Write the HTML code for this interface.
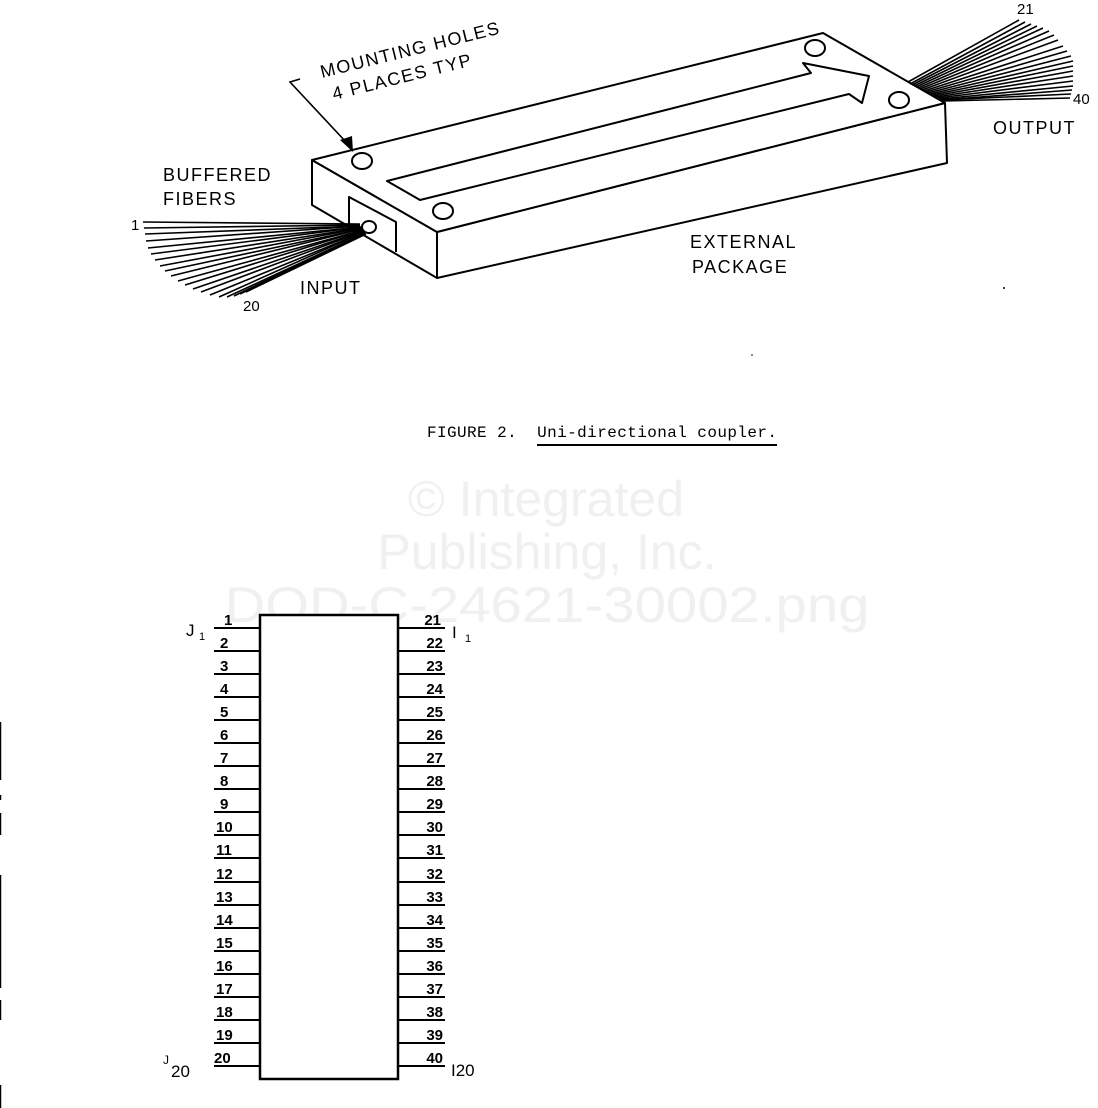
<!DOCTYPE html>
<html><head><meta charset="utf-8"><style>
html,body{margin:0;padding:0;background:#fff}
svg{display:block}
.t{font-family:"Liberation Sans",sans-serif;fill:#000}
.pre{white-space:pre}
</style></head><body>
<svg width="1098" height="1108" viewBox="0 0 1098 1108" xmlns="http://www.w3.org/2000/svg">
<!-- watermark -->
<g font-family="Liberation Sans, sans-serif" font-size="50" fill="#f0f0f0" text-anchor="middle">
<text x="546" y="516">© Integrated</text>
<text x="547" y="569">Publishing, Inc.</text>
<text x="547" y="622" textLength="645" lengthAdjust="spacingAndGlyphs">DOD-C-24621-30002.png</text>
</g>

<!-- package -->
<g stroke="#000" stroke-width="2" fill="#fff" stroke-linejoin="round">
<polygon points="312,160 437,232 437,278 312,205"/>
<polygon points="437,232 945,103 947,163 437,278"/>
<polygon points="312,160 823,33 945,103 437,232"/>
<polyline points="349,226 349,197 396,222 396,252" fill="none"/>
<polygon points="387,181 811,73 803,63 869,76 862,103 849,94 420,200"/>
<ellipse cx="362" cy="161" rx="10" ry="8"/>
<ellipse cx="443" cy="211" rx="10" ry="8"/>
<ellipse cx="815" cy="48" rx="10" ry="8"/>
<ellipse cx="899" cy="100" rx="10" ry="8"/>
<ellipse cx="369" cy="227" rx="7" ry="6"/>
</g>
<!-- leader -->
<g stroke="#000" stroke-width="1.6" fill="none">
<polyline points="300,79 290,82 346,142"/>
</g>
<polygon points="340,140 352,136 353,152" fill="#000"/>

<!-- input fibers -->
<g stroke="#000" stroke-width="1.6">
<line x1="143" y1="222" x2="360" y2="224"/>
<line x1="144" y1="228" x2="360" y2="225"/>
<line x1="145" y1="234" x2="360" y2="226"/>
<line x1="146" y1="241" x2="360" y2="226"/>
<line x1="148" y1="248" x2="361" y2="227"/>
<line x1="151" y1="254" x2="361" y2="227"/>
<line x1="155" y1="260" x2="361" y2="228"/>
<line x1="160" y1="266" x2="362" y2="228"/>
<line x1="165" y1="271" x2="362" y2="229"/>
<line x1="171" y1="276" x2="362" y2="229"/>
<line x1="178" y1="281" x2="363" y2="230"/>
<line x1="185" y1="285" x2="363" y2="230"/>
<line x1="193" y1="289" x2="363" y2="231"/>
<line x1="201" y1="292" x2="364" y2="231"/>
<line x1="210" y1="295" x2="364" y2="232"/>
<line x1="219" y1="297" x2="364" y2="232"/>
<line x1="227" y1="297" x2="365" y2="233"/>
<line x1="234" y1="296" x2="365" y2="233"/>
<line x1="240" y1="294" x2="365" y2="234"/>
<line x1="246" y1="292" x2="366" y2="234"/>
</g>
<!-- output fibers -->
<g stroke="#000" stroke-width="1.6">
<line x1="1019" y1="20" x2="908" y2="82"/>
<line x1="1025" y1="22" x2="910" y2="84"/>
<line x1="1031" y1="24" x2="912" y2="85"/>
<line x1="1037" y1="26" x2="914" y2="86"/>
<line x1="1043" y1="28" x2="916" y2="87"/>
<line x1="1049" y1="31" x2="918" y2="88"/>
<line x1="1054" y1="35" x2="920" y2="89"/>
<line x1="1058" y1="40" x2="922" y2="90"/>
<line x1="1063" y1="46" x2="924" y2="91"/>
<line x1="1067" y1="51" x2="926" y2="92"/>
<line x1="1071" y1="56" x2="928" y2="93"/>
<line x1="1073" y1="61" x2="930" y2="94"/>
<line x1="1073" y1="66" x2="932" y2="95"/>
<line x1="1073" y1="71" x2="934" y2="96"/>
<line x1="1073" y1="76" x2="936" y2="97"/>
<line x1="1073" y1="81" x2="938" y2="98"/>
<line x1="1073" y1="86" x2="940" y2="99"/>
<line x1="1072" y1="90" x2="941" y2="100"/>
<line x1="1071" y1="94" x2="942" y2="100"/>
<line x1="1070" y1="98" x2="943" y2="101"/>
</g>

<!-- labels -->
<g class="t" font-size="18" letter-spacing="1.5">
<text transform="translate(322,78) rotate(-14)">MOUNTING HOLES</text>
<text transform="translate(334,100) rotate(-14)">4 PLACES TYP</text>
<text x="163" y="181">BUFFERED</text>
<text x="163" y="205">FIBERS</text>
<text x="300" y="294">INPUT</text>
<text x="690" y="248">EXTERNAL</text>
<text x="692" y="273">PACKAGE</text>
<text x="993" y="134">OUTPUT</text>
</g>
<g class="t" font-size="15">
<text x="131" y="230">1</text>
<text x="243" y="311">20</text>
<text x="1017" y="14">21</text>
<text x="1073" y="104">40</text>
</g>
<circle cx="1004" cy="288" r="1" fill="#000"/>
<circle cx="752" cy="355" r="0.8" fill="#000"/>

<!-- caption -->
<text class="pre" x="427" y="437" font-family="Liberation Mono, monospace" font-size="16" fill="#000" xml:space="preserve" textLength="350" lengthAdjust="spacing">FIGURE 2.  Uni-directional coupler.</text>
<line x1="537" y1="445" x2="777" y2="445" stroke="#000" stroke-width="2"/>

<!-- connector block -->
<rect x="260" y="615" width="138" height="464" fill="#fff" stroke="#000" stroke-width="2.5"/>
<g stroke="#000" stroke-width="2">
<line x1="214" y1="628" x2="260" y2="628"/><line x1="398" y1="628" x2="445" y2="628"/>
<line x1="214" y1="651" x2="260" y2="651"/><line x1="398" y1="651" x2="445" y2="651"/>
<line x1="214" y1="674" x2="260" y2="674"/><line x1="398" y1="674" x2="445" y2="674"/>
<line x1="214" y1="697" x2="260" y2="697"/><line x1="398" y1="697" x2="445" y2="697"/>
<line x1="214" y1="720" x2="260" y2="720"/><line x1="398" y1="720" x2="445" y2="720"/>
<line x1="214" y1="743" x2="260" y2="743"/><line x1="398" y1="743" x2="445" y2="743"/>
<line x1="214" y1="766" x2="260" y2="766"/><line x1="398" y1="766" x2="445" y2="766"/>
<line x1="214" y1="789" x2="260" y2="789"/><line x1="398" y1="789" x2="445" y2="789"/>
<line x1="214" y1="812" x2="260" y2="812"/><line x1="398" y1="812" x2="445" y2="812"/>
<line x1="214" y1="835" x2="260" y2="835"/><line x1="398" y1="835" x2="445" y2="835"/>
<line x1="214" y1="858" x2="260" y2="858"/><line x1="398" y1="858" x2="445" y2="858"/>
<line x1="214" y1="882" x2="260" y2="882"/><line x1="398" y1="882" x2="445" y2="882"/>
<line x1="214" y1="905" x2="260" y2="905"/><line x1="398" y1="905" x2="445" y2="905"/>
<line x1="214" y1="928" x2="260" y2="928"/><line x1="398" y1="928" x2="445" y2="928"/>
<line x1="214" y1="951" x2="260" y2="951"/><line x1="398" y1="951" x2="445" y2="951"/>
<line x1="214" y1="974" x2="260" y2="974"/><line x1="398" y1="974" x2="445" y2="974"/>
<line x1="214" y1="997" x2="260" y2="997"/><line x1="398" y1="997" x2="445" y2="997"/>
<line x1="214" y1="1020" x2="260" y2="1020"/><line x1="398" y1="1020" x2="445" y2="1020"/>
<line x1="214" y1="1043" x2="260" y2="1043"/><line x1="398" y1="1043" x2="445" y2="1043"/>
<line x1="214" y1="1066" x2="260" y2="1066"/><line x1="398" y1="1066" x2="445" y2="1066"/>
</g>
<g class="t" font-size="15" font-weight="bold">
<text x="224" y="625">1</text>
<text x="220" y="648">2</text><text x="220" y="671">3</text><text x="220" y="694">4</text>
<text x="220" y="717">5</text><text x="220" y="740">6</text><text x="220" y="763">7</text>
<text x="220" y="786">8</text><text x="220" y="809">9</text><text x="216" y="832">10</text>
<text x="216" y="855">11</text><text x="216" y="879">12</text><text x="216" y="902">13</text>
<text x="216" y="925">14</text><text x="216" y="948">15</text><text x="216" y="971">16</text>
<text x="216" y="994">17</text><text x="216" y="1017">18</text><text x="216" y="1040">19</text>
<text x="214" y="1063">20</text>
</g>
<g class="t" font-size="15" font-weight="bold" text-anchor="end">
<text x="441" y="625">21</text><text x="443" y="648">22</text><text x="443" y="671">23</text>
<text x="443" y="694">24</text><text x="443" y="717">25</text><text x="443" y="740">26</text>
<text x="443" y="763">27</text><text x="443" y="786">28</text><text x="443" y="809">29</text>
<text x="443" y="832">30</text><text x="443" y="855">31</text><text x="443" y="879">32</text>
<text x="443" y="902">33</text><text x="443" y="925">34</text><text x="443" y="948">35</text>
<text x="443" y="971">36</text><text x="443" y="994">37</text><text x="443" y="1017">38</text>
<text x="443" y="1040">39</text><text x="443" y="1063">40</text>
</g>
<g class="t" font-size="17">
<text x="186" y="636">J</text><text x="199" y="640" font-size="11">1</text>
<text x="452" y="638">I</text><text x="465" y="642" font-size="11">1</text>
<text x="163" y="1064" font-size="12">J</text><text x="171" y="1077">20</text>
<text x="451" y="1076">I20</text>
</g>

<!-- left edge marks -->
<g stroke="#000" stroke-width="1.5">
<line x1="0.5" y1="722" x2="0.5" y2="780"/>
<line x1="0.5" y1="795" x2="0.5" y2="800"/>
<line x1="0.5" y1="813" x2="0.5" y2="835"/>
<line x1="0.5" y1="875" x2="0.5" y2="988"/>
<line x1="0.5" y1="1000" x2="0.5" y2="1020"/>
<line x1="0.5" y1="1085" x2="0.5" y2="1108"/>
</g>
</svg>
</body></html>
